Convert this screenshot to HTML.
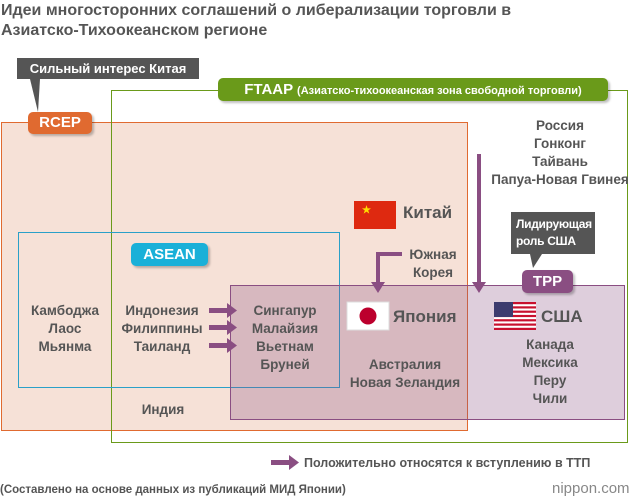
<!DOCTYPE html>
<html><head><meta charset="utf-8"><style>
body{margin:0;width:640px;height:500px;background:#fff;position:relative;overflow:hidden;font-family:"Liberation Sans",sans-serif;font-weight:bold;color:#555}
.t{position:absolute;text-align:center;font-size:13.5px;line-height:18px;white-space:nowrap}
.tag{position:absolute;color:#fff;border-radius:5px;text-align:center;box-shadow:2px 2px 2px rgba(0,0,0,.25)}
</style></head><body>
<div style="position:absolute;left:1px;top:1px;font-size:16px;line-height:20px;color:#555">Идеи многосторонних соглашений о либерализации торговли в<br>Азиатско-Тихоокеанском регионе</div>
<svg width="640" height="500" style="position:absolute;left:0;top:0">
<rect x="1.5" y="122.5" width="466" height="308" fill="#f6e1d7" stroke="#e06a30"/>
<rect x="111.5" y="90.5" width="516" height="352" fill="none" stroke="#6a9a1a"/>
<rect x="18.5" y="232.5" width="321" height="155" fill="none" stroke="#2aa0c8"/>
<rect x="230.5" y="285.5" width="394" height="134" fill="#8a4e82" fill-opacity="0.28" stroke="#8a4e82"/>
<polygon points="30,79 40,79 38,112" fill="#555"/>
<polygon points="530,254 542,254 533,268" fill="#555"/>
<g fill="#8a4e82" stroke="#8a4e82">
<path d="M402,254 H378 V284" fill="none" stroke-width="4"/>
<polygon points="371,282 385,282 378,293" stroke="none"/>
<path d="M479,154 V284" fill="none" stroke-width="4"/>
<polygon points="472,282 486,282 479,293" stroke="none"/>
<g stroke="none">
<rect x="209" y="308" width="20" height="5"/><polygon points="227,303 237,310.5 227,318"/>
<rect x="209" y="325" width="20" height="5"/><polygon points="227,320 237,327.5 227,335"/>
<rect x="209" y="343" width="20" height="5"/><polygon points="227,338 237,345.5 227,353"/>
<rect x="271" y="460" width="20" height="5"/><polygon points="289,455 299,462.5 289,470"/>
</g></g>
<rect x="354" y="201" width="42" height="28" fill="#de2910"/>
<text x="362" y="213" fill="#ffde00" font-size="10">★</text>
<rect x="347" y="302" width="42" height="28" fill="#fff" stroke="#ddd"/>
<circle cx="368" cy="316" r="8.5" fill="#bc002d"/>
<g>
<rect x="494" y="302" width="42" height="28" fill="#fff"/>
<g fill="#c8102e"><rect x="494" y="302" width="42" height="2.2"/><rect x="494" y="306.3" width="42" height="2.2"/><rect x="494" y="310.6" width="42" height="2.2"/><rect x="494" y="314.9" width="42" height="2.2"/><rect x="494" y="319.2" width="42" height="2.2"/><rect x="494" y="323.5" width="42" height="2.2"/><rect x="494" y="327.8" width="42" height="2.2"/></g>
<rect x="494" y="302" width="19" height="15" fill="#3c3b6e"/>
</g>
</svg>
<div class="tag" style="left:17px;top:58px;width:182px;height:21px;line-height:21px;background:#555;border-radius:0;box-shadow:none;font-size:13px">Сильный интерес Китая</div>
<div class="tag" style="left:28px;top:112px;width:64px;height:22px;line-height:22px;background:#e06a30;font-size:15px">RCEP</div>
<div class="tag" style="left:218px;top:78px;width:390px;height:23px;line-height:23px;background:#6a9a1a;font-size:15px">FTAAP <span style="font-size:11px">(Азиатско-тихоокеанская зона свободной торговли)</span></div>
<div class="tag" style="left:131px;top:243px;width:77px;height:23px;line-height:23px;background:#1ab0d8;font-size:15px">ASEAN</div>
<div class="tag" style="left:522px;top:270px;width:51px;height:23px;line-height:23px;background:#8a4e82;font-size:15px">TPP</div>
<div class="tag" style="left:511px;top:212px;width:84px;height:42px;background:#555;border-radius:0;box-shadow:none;font-size:12px;line-height:17px;text-align:left;padding:4px 0 0 5px;box-sizing:border-box;letter-spacing:-0.3px;white-space:nowrap">Лидирующая<br>роль США</div>
<div class="t" style="left:490px;top:117px;width:140px">Россия<br>Гонконг<br>Тайвань<br>Папуа-Новая Гвинея</div>
<div class="t" style="left:403px;top:204px;font-size:17px">Китай</div>
<div class="t" style="left:400px;top:246px;width:66px">Южная<br>Корея</div>
<div class="t" style="left:393px;top:308px;font-size:17px">Япония</div>
<div class="t" style="left:541px;top:308px;font-size:17px">США</div>
<div class="t" style="left:330px;top:356px;width:150px">Австралия<br>Новая Зеландия</div>
<div class="t" style="left:500px;top:336px;width:100px">Канада<br>Мексика<br>Перу<br>Чили</div>
<div class="t" style="left:17px;top:302px;width:96px">Камбоджа<br>Лаос<br>Мьянма</div>
<div class="t" style="left:112px;top:302px;width:100px">Индонезия<br>Филиппины<br>Таиланд</div>
<div class="t" style="left:236px;top:302px;width:98px">Сингапур<br>Малайзия<br>Вьетнам<br>Бруней</div>
<div class="t" style="left:118px;top:401px;width:90px">Индия</div>
<div class="t" style="left:304px;top:454px;font-size:12.5px">Положительно относятся к вступлению в ТТП</div>
<div class="t" style="left:0;top:483px;font-size:11.5px;line-height:15px">(Составлено на основе данных из публикаций МИД Японии)</div>
<div class="t" style="left:552px;top:480px;font-size:15px;font-weight:normal;color:#888">nippon.com</div>
</body></html>
